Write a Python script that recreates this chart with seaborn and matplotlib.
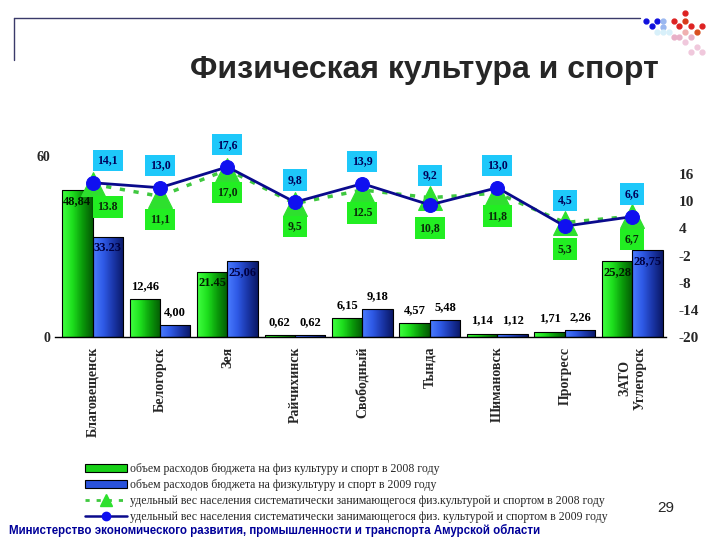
import numpy as np
import pandas as pd
import matplotlib
matplotlib.use("Agg")
import matplotlib.pyplot as plt
import seaborn as sns
from matplotlib.colors import LinearSegmentedColormap
from matplotlib.patches import Patch
from matplotlib.lines import Line2D

# --- данные ---
cities = ["Благовещенск", "Белогорск", "Зея", "Райчихинск", "Свободный",
          "Тында", "Шимановск", "Прогресс", "ЗАТО\nУглегорск"]
budget_2008 = [48.84, 12.46, 21.45, 0.62, 6.15, 4.57, 1.14, 1.71, 25.28]
budget_2009 = [33.23, 4.00, 25.06, 0.62, 9.18, 5.48, 1.12, 2.26, 28.75]
budget_2008_txt = ["48,84", "12,46", "21.45", "0,62", "6,15", "4,57", "1,14", "1,71", "25,28"]
budget_2009_txt = ["33.23", "4,00", "25,06", "0,62", "9,18", "5,48", "1,12", "2,26", "28,75"]
share_2008 = [13.8, 11.1, 17.0, 9.5, 12.5, 10.8, 11.8, 5.3, 6.7]
share_2009 = [14.1, 13.0, 17.6, 9.8, 13.9, 9.2, 13.0, 4.5, 6.6]
share_2008_txt = ["13.8", "11,1", "17,0", "9,5", "12.5", "10,8", "11,8", "5,3", "6,7"]
share_2009_txt = ["14,1", "13,0", "17,6", "9,8", "13,9", "9,2", "13,0", "4,5", "6,6"]
years = ["2008", "2009"]
legend_labels = [
    "объем расходов бюджета на физ культуру и спорт в 2008 году",
    "объем расходов бюджета на физкультуру и спорт в 2009 году",
    "удельный вес населения систематически занимающегося физ.культурой и спортом в 2008 году",
    "удельный вес населения систематически занимающегося физ. культурой и спортом в 2009 году",
]

df = pd.DataFrame({
    "город": cities * 2,
    "год": [years[0]] * len(cities) + [years[1]] * len(cities),
    "расходы": budget_2008 + budget_2009,
})

sns.set_style("white")
plt.rcParams["font.family"] = ["Liberation Serif", "DejaVu Serif"]
plt.rcParams["axes.unicode_minus"] = False

GREEN = "#14d414"
BLUE = "#2a4fd6"
green_cmap = LinearSegmentedColormap.from_list("g", ["#40ff40", "#1ee01e", "#0a9a0a", "#045a04"])
blue_cmap = LinearSegmentedColormap.from_list("b", ["#4a7cff", "#2f5ae6", "#1a36a8", "#0a1866"])

fig = plt.figure(figsize=(7.2, 5.4), dpi=100)
ax = fig.add_axes([0.076, 0.376, 0.849, 0.335])

sns.barplot(data=df, x="город", y="расходы", hue="год", palette=[GREEN, BLUE],
            width=0.9, gap=0, edgecolor="black", linewidth=0.8, legend=False, ax=ax)

# градиентная заливка столбцов
grad = np.linspace(0, 1, 64).reshape(1, -1)
for cont, cmap, texts in zip(ax.containers, [green_cmap, blue_cmap],
                             [budget_2008_txt, budget_2009_txt]):
    for p, t in zip(cont.patches, texts):
        x, y, w, h = p.get_x(), p.get_y(), p.get_width(), p.get_height()
        im = ax.imshow(grad, cmap=cmap, vmin=0, vmax=1, extent=[x, x + w, y, y + h],
                       aspect="auto", interpolation="bilinear", zorder=p.get_zorder() + 0.01)
        im.set_clip_path(p)
        p.set_facecolor("none")
        p.set_zorder(p.get_zorder() + 0.02)
        inside = h > 20
        ax.annotate(t, (x + w / 2, h), xytext=(0, -8 if inside else 9.5),
                    textcoords="offset points", ha="center", va="center",
                    fontsize=9, fontweight="bold", zorder=5,
                    color=("#001a00" if cmap is green_cmap else "#000040") if inside else "black")

ax.set_xlim(-0.56, 8.5)
ax.set_ylim(0, 60)
ax.set_yticks([0, 60])
ax.set_xlabel("")
ax.set_ylabel("")
for s in ["left", "right", "top"]:
    ax.spines[s].set_visible(False)
ax.spines["bottom"].set_color("black")
ax.spines["bottom"].set_linewidth(1.0)
ax.tick_params(axis="y", length=0, pad=3, labelsize=10)
ax.tick_params(axis="x", length=0, pad=7, labelsize=10, labelrotation=90)
for lbl in ax.get_yticklabels():
    lbl.set_fontweight("bold")
for lbl in ax.get_xticklabels():
    lbl.set_fontweight("bold")
    lbl.set_multialignment("center")
    lbl.set_va("top")

# вторая ось: удельный вес
ax2 = ax.twinx()
pos = np.arange(len(cities))
sns.lineplot(x=pos, y=share_2008, ax=ax2, color="#3fc83f", linewidth=2.5,
             linestyle=(0, (1.5, 2.5)), marker="^", markersize=17,
             markerfacecolor="#2ee02e", markeredgecolor="#2ee02e", zorder=3)
sns.lineplot(x=pos, y=share_2009, ax=ax2, color="#0a0a8c", linewidth=2,
             marker="o", markersize=10, markerfacecolor="#1010f0",
             markeredgecolor="#1010f0", zorder=4)
ax2.set_ylim(-20, 20)
ax2.set_yticks([16, 10, 4, -2, -8, -14, -20])
ax2.set_ylabel("")
ax2.tick_params(axis="y", length=0, pad=9, labelsize=11)
for lbl in ax2.get_yticklabels():
    lbl.set_fontweight("bold")
for s in ax2.spines.values():
    s.set_visible(False)
ax.set_xlim(-0.56, 8.5)

for i in range(len(cities)):
    top = max(share_2008[i], share_2009[i])
    bot = min(share_2008[i], share_2009[i])
    dx = 11 if i == 0 else 0
    ax2.annotate(share_2009_txt[i], (i, top), xytext=(dx, 16), textcoords="offset points",
                 ha="center", va="center", fontsize=8.5, fontweight="bold", color="#00005a",
                 bbox=dict(boxstyle="square,pad=0.4", fc="#1ec8fa", ec="none"), zorder=6)
    ax2.annotate(share_2008_txt[i], (i, bot), xytext=(dx, -16.5), textcoords="offset points",
                 ha="center", va="center", fontsize=8.5, fontweight="bold", color="#0a2a0a",
                 bbox=dict(boxstyle="square,pad=0.4", fc="#22ee22", ec="none"), zorder=6)

# легенда
handles = [
    Patch(facecolor="#18d018", edgecolor="black", linewidth=0.8),
    Patch(facecolor="#2a52dc", edgecolor="black", linewidth=0.8),
    Line2D([], [], color="#3fc83f", linewidth=2, linestyle=(0, (1.5, 2.5)),
           marker="^", markersize=8, markerfacecolor="#2ee02e", markeredgecolor="#2ee02e"),
    Line2D([], [], color="#0a0a8c", linewidth=1.8, marker="o", markersize=6,
           markerfacecolor="#1010f0", markeredgecolor="#1010f0"),
]
fig.legend(handles, legend_labels, loc="upper left", bbox_to_anchor=(0.118, 0.142),
           frameon=False, fontsize=8.5, handlelength=3.6, handleheight=0.6,
           handletextpad=0.25, labelspacing=0.32, borderaxespad=0, borderpad=0)

# заголовок и оформление слайда
fig.text(0.589, 0.87, "Физическая культура и спорт", ha="center", va="center",
         fontsize=23, fontweight="bold", family="Liberation Sans")
fig.text(0.012, 0.018, "Министерство экономического развития, промышленности и транспорта Амурской области",
         ha="left", va="center", fontsize=8.3, fontweight="bold", color="#000099",
         family="Liberation Sans")
fig.text(0.924, 0.059, "29", ha="center", va="center", fontsize=11, family="Liberation Sans")
fig.add_artist(Line2D([14 / 720, 640 / 720], [1 - 18 / 540, 1 - 18 / 540],
                      transform=fig.transFigure, color="#3a3a6a", linewidth=1))
fig.add_artist(Line2D([14 / 720, 14 / 720], [1 - 18 / 540, 1 - 60 / 540],
                      transform=fig.transFigure, color="#3a3a6a", linewidth=1))

# декоративные точки в правом верхнем углу
dots = [(646, 21, "#1010dd"), (652, 26, "#1010dd"), (657, 21, "#1010dd"), (663, 21, "#9ab8f0"),
        (663, 27, "#9ab8f0"), (657, 32, "#d8f0fa"), (663, 32, "#d8f0fa"), (669, 32, "#d8f0fa"),
        (685, 13, "#dd2222"), (674, 21, "#dd2222"), (685, 21, "#d83a1a"), (679, 26, "#dd2222"),
        (691, 26, "#dd2222"), (702, 26, "#dd2222"), (697, 32, "#d85020"), (685, 32, "#f0b0b0"),
        (674, 37, "#e8b0c8"), (679, 37, "#e8b0c8"), (691, 37, "#e8b0c8"), (685, 42, "#f0c8dc"),
        (697, 47, "#f0c8dc"), (691, 52, "#f0c8dc"), (702, 52, "#f0c8dc")]
for px, py, c in dots:
    fig.add_artist(Line2D([px / 720], [1 - py / 540], transform=fig.transFigure,
                          marker="o", markersize=3.5, color=c, linestyle="none"))

fig.savefig("out.png", dpi=100)
